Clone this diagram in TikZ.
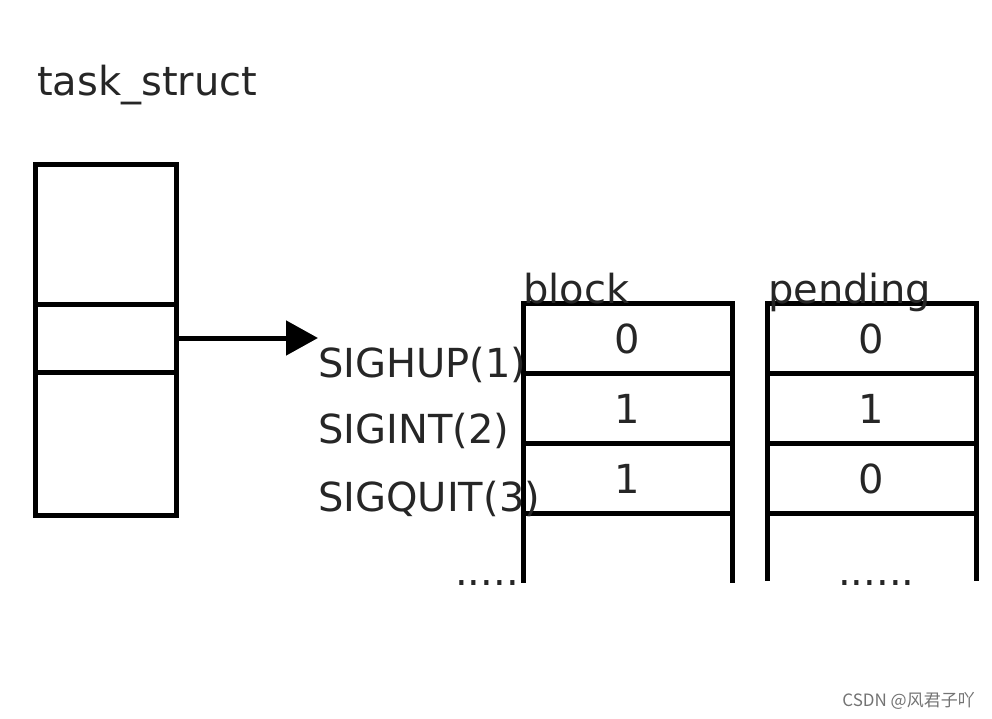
\documentclass[tikz,border=0pt]{standalone}
\usepackage{fontspec}
\setmainfont{DejaVu Sans}
\newfontfamily\cjk{Noto Sans CJK SC}
\usetikzlibrary{positioning, arrows.meta}
\tikzstyle{field} = [rectangle, minimum width=141pt, draw=black, line width=5pt, outer sep=0pt, inner sep=0pt]
\tikzstyle{cell} = [rectangle, minimum width=209pt, minimum height=70pt, text centered, draw=black, line width=5pt, outer sep=0pt, inner sep=0pt, text=black!85, font=\fontsize{40}{40}\selectfont]
\tikzstyle{txt} = [inner sep=0pt, anchor=base west, text=black!85, font=\fontsize{40}{40}\selectfont]
\tikzstyle{arrow} = [line width=5pt, -{Triangle[length=32pt, width=34pt]}]
\tikzstyle{open} = [line width=5pt]

\begin{document}
\begin{tikzpicture}[x=1pt, y=-1pt]
        \useasboundingbox (0,0) rectangle (992,719);
        \node (title) [txt] at (37,96) {task\_struct};
        \node (ts1) [field, minimum height=139pt, anchor=north west] at (35,165) {};
        \node (ts2) [field, minimum height=68pt, below=0pt of ts1] {};
        \node (ts3) [field, minimum height=143pt, below=0pt of ts2] {};
        % block bitmap
        \node (b1) [cell] at (627.5,338.5) {0};
        \node (b2) [cell, below=0pt of b1] {1};
        \node (b3) [cell, below=0pt of b2] {1};
        \draw [open] (b3.south west) -- ++(0,69);
        \draw [open] (b3.south east) -- ++(0,69);
        \node (blk) [txt] at (b1.north west) {block};
        \node (bdots) [txt] at (455,585) {.....};
        % pending bitmap
        \node (p1) [cell] at (871.5,338.5) {0};
        \node (p2) [cell, below=0pt of p1] {1};
        \node (p3) [cell, below=0pt of p2] {0};
        \draw [open] (p3.south west) -- ++(0,67);
        \draw [open] (p3.south east) -- ++(0,67);
        \node (pnd) [txt, xshift=1pt] at (p1.north west) {pending};
        \node (pdots) [txt] at (838,585) {......};
        % signal names
        \node (sighup) [txt] at (318,377) {SIGHUP(1)};
        \node (sigint) [txt] at (318,443) {SIGINT(2)};
        \node (sigquit) [txt] at (318,511) {SIGQUIT(3)};
        \draw [arrow] (ts2.east) -- (ts2.east -| sighup.west);
        \node (mark) [anchor=base east, inner sep=0pt, text=black!55, font=\fontsize{17}{17}\selectfont\cjk] at (975,706) {CSDN @风君子吖};
    \end{tikzpicture}
\end{document}
